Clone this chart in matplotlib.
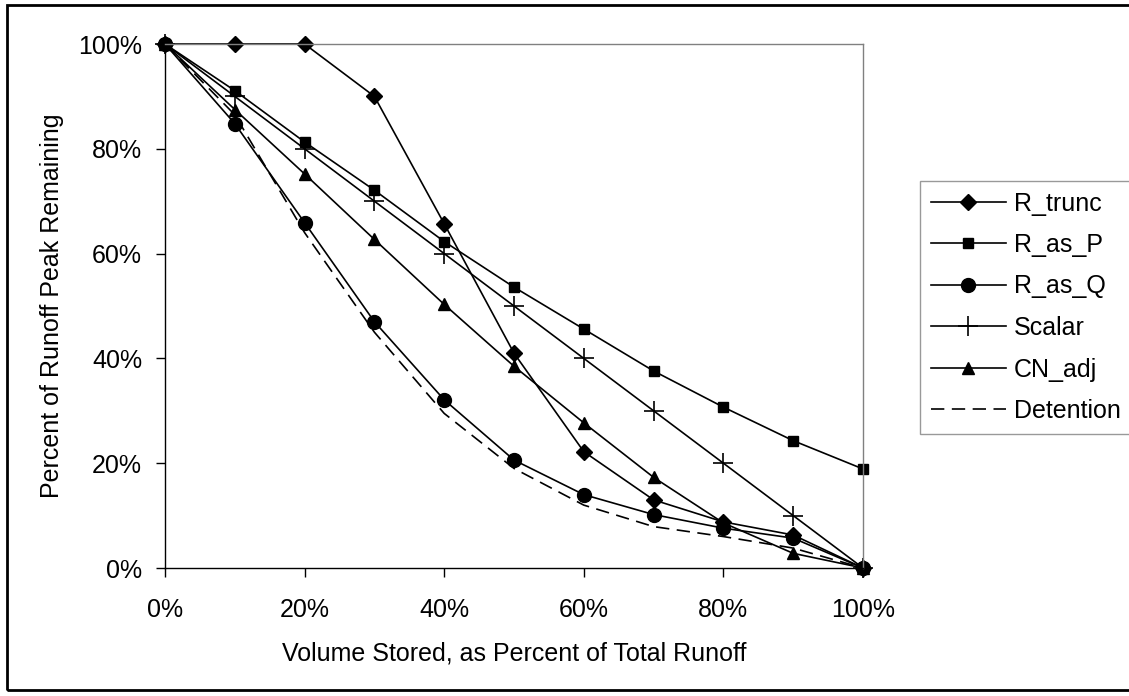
import matplotlib
matplotlib.use("Agg")
import matplotlib.pyplot as plt
from matplotlib.ticker import PercentFormatter, MultipleLocator
from matplotlib.patches import Rectangle

plt.rcParams['font.family'] = ['Liberation Sans', 'DejaVu Sans']

# Volume stored (% of total runoff)
volume_stored = [0, 10, 20, 30, 40, 50, 60, 70, 80, 90, 100]

# Percent of runoff peak remaining for each method
r_trunc = [100, 100, 100, 90, 65.7, 41.0, 22.2, 13.0, 8.8, 6.3, 0]
r_as_p = [100, 91.1, 81.3, 72.1, 62.3, 53.6, 45.6, 37.6, 30.7, 24.3, 18.9]
r_as_q = [100, 84.8, 65.9, 47.0, 32.1, 20.6, 14.0, 10.2, 7.6, 5.7, 0]
scalar = [100, 90, 80, 70, 60, 50, 40, 30, 20, 10, 0]
cn_adj = [100, 87.5, 75.2, 62.7, 50.3, 38.5, 27.7, 17.3, 8.6, 2.8, 0]
detention = [100, 86.5, 64.0, 45.0, 29.5, 19.0, 12.0, 7.9, 6.0, 3.8, 0]

W, H = 1129, 696
DPI = 100
fig = plt.figure(figsize=(W / DPI, H / DPI), dpi=DPI)
fig.patch.set_facecolor('white')

# outer chart border
fig.add_artist(Rectangle((7 / W, 1 - 690 / H), (1140 - 7) / W, (690 - 5) / H,
                         transform=fig.transFigure, fill=False,
                         edgecolor='black', linewidth=2.0))

left, right, top, bottom = 165, 863, 44, 568
ax = fig.add_axes([left / W, 1 - bottom / H, (right - left) / W, (bottom - top) / H])

FS = 18
common = dict(color='black', linewidth=1.2, clip_on=False)
ax.plot(volume_stored, r_trunc, marker='D', markersize=8, label='R_trunc', **common)
ax.plot(volume_stored, r_as_p, marker='s', markersize=7.5, label='R_as_P', **common)
ax.plot(volume_stored, r_as_q, marker='o', markersize=10, label='R_as_Q', **common)
ax.plot(volume_stored, scalar, marker='+', markersize=14, markeredgewidth=1.2,
        label='Scalar', **common)
ax.plot(volume_stored, cn_adj, marker='^', markersize=8.5, label='CN_adj', **common)
ax.plot(volume_stored, detention, linestyle=(0, (8, 4.5)), label='Detention', **common)

ax.set_xlim(0, 100)
ax.set_ylim(0, 100)
ax.xaxis.set_major_locator(MultipleLocator(20))
ax.yaxis.set_major_locator(MultipleLocator(20))
ax.xaxis.set_major_formatter(PercentFormatter(xmax=100, decimals=0))
ax.yaxis.set_major_formatter(PercentFormatter(xmax=100, decimals=0))

for side in ('left', 'bottom'):
    ax.spines[side].set_color('black')
    ax.spines[side].set_linewidth(1.0)
for side in ('top', 'right'):
    ax.spines[side].set_color('#808080')
    ax.spines[side].set_linewidth(1.0)

ax.tick_params(axis='both', direction='out', length=6.5, width=1.0,
               labelsize=FS, colors='black')
ax.tick_params(axis='x', pad=15)
ax.tick_params(axis='y', pad=10)

ax.set_xlabel('Volume Stored, as Percent of Total Runoff', fontsize=FS)
ax.set_ylabel('Percent of Runoff Peak Remaining', fontsize=FS)
ax.xaxis.set_label_coords(0.5, -(642 - bottom) / (bottom - top))
ax.yaxis.set_label_coords(-(165 - 64) / (right - left), 0.5)

# legend box runs past the right edge of the chart area
leg = fig.legend(loc='upper left',
                 bbox_to_anchor=(920 / W, 1 - 181 / H, 240 / W, 0.0),
                 mode='expand',
                 fontsize=FS, frameon=True, fancybox=False, shadow=False,
                 handlelength=3.0, handletextpad=0.32, borderpad=0.42,
                 labelspacing=0.7, borderaxespad=0)
leg.get_frame().set_edgecolor('#808080')
leg.get_frame().set_linewidth(1.0)

fig.savefig('out.png', dpi=DPI)
